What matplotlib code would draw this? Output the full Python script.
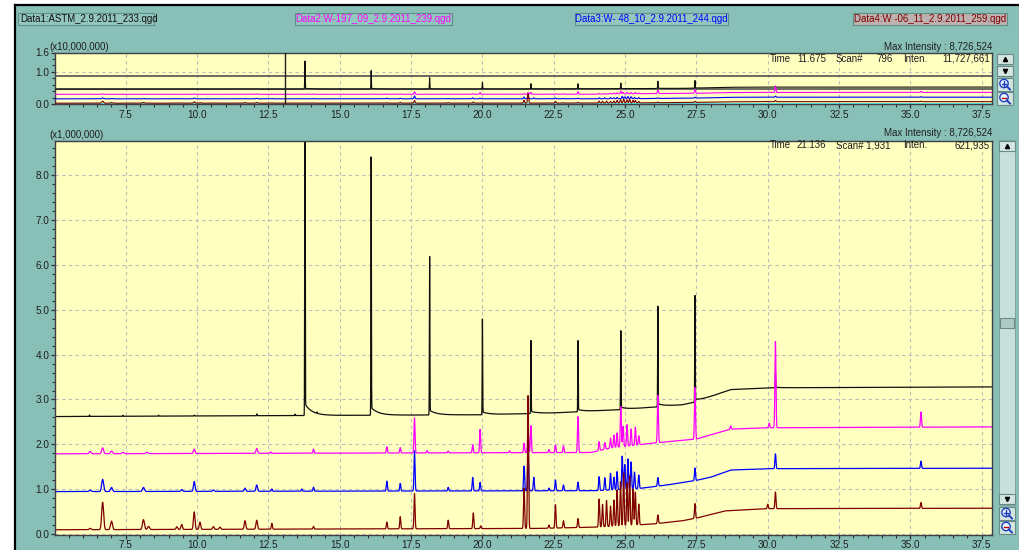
import numpy as np
import matplotlib
matplotlib.use('Agg')
import matplotlib.pyplot as plt
from matplotlib.patches import Rectangle, Circle
from matplotlib.ticker import MultipleLocator

plt.rcParams['font.family'] = ['Liberation Sans', 'DejaVu Sans']

# retention time window (min)
t_lo, t_hi = 5.02, 37.86

# Data1: ASTM (black) -- intensity in x1,000,000
astm_base_t = [5.0, 20.0, 22.5, 25.0, 27.0, 27.5, 28.7, 30.0, 37.9]
astm_base_v = [2.62, 2.66, 2.70, 2.78, 2.88, 2.95, 3.22, 3.26, 3.28]
astm_peak_t = [6.23, 7.40, 8.65, 9.90, 12.10, 13.43, 13.78, 14.20, 16.10, 18.15,
               20.00, 21.70, 23.35, 24.85, 26.15, 27.45, 30.27]
astm_peak_h = [0.03, 0.02, 0.02, 0.02, 0.04, 0.03, 8.60, 0.03, 5.76, 3.43,
               2.07, 1.58, 1.59, 1.75, 2.24, 2.33, 0.30]

# Data2: W-197_09 (magenta)
w197_base_t = [5.0, 23.8, 24.5, 26.0, 27.5, 28.7, 30.0, 37.9]
w197_base_v = [1.79, 1.82, 1.92, 2.03, 2.12, 2.34, 2.37, 2.39]
w197_peak_t = [6.25, 6.69, 7.00, 7.40, 8.24, 9.90, 12.09, 12.58, 14.08, 16.65,
               17.12, 17.62, 18.06, 18.80, 19.66, 19.92, 20.95, 21.46, 21.60, 21.70,
               22.33, 22.56, 22.84, 23.35, 24.09, 24.29, 24.49, 24.61, 24.72, 24.85,
               24.93, 25.07, 25.21, 25.36, 25.48, 26.15, 27.45, 28.70, 30.05, 30.27,
               35.37]
w197_peak_h = [0.05, 0.13, 0.06, 0.03, 0.03, 0.10, 0.11, 0.03, 0.09, 0.14,
               0.12, 0.78, 0.05, 0.04, 0.18, 0.52, 0.04, 0.21, 0.55, 0.60,
               0.07, 0.17, 0.15, 0.80, 0.20, 0.15, 0.22, 0.28, 0.32, 0.90,
               0.45, 0.48, 0.37, 0.40, 0.20, 1.05, 1.15, 0.07, 0.10, 1.92,
               0.34]

# Data3: W-48_10 (blue)
w48_base_t = [5.0, 24.0, 25.5, 26.5, 27.5, 28.0, 28.7, 30.0, 37.9]
w48_base_v = [0.95, 0.97, 1.02, 1.10, 1.20, 1.27, 1.43, 1.46, 1.47]
w48_peak_t = [6.25, 6.69, 7.00, 8.12, 9.46, 9.90, 10.57, 11.68, 12.09, 12.62,
              13.67, 14.08, 16.65, 17.12, 17.62, 18.80, 19.66, 19.92, 21.46, 21.60,
              21.80, 22.33, 22.56, 22.84, 23.35, 24.09, 24.29, 24.49, 24.61, 24.72,
              24.90, 24.99, 25.10, 25.21, 25.33, 25.48, 26.15, 27.45, 30.27, 35.37]
w48_peak_h = [0.03, 0.27, 0.09, 0.09, 0.04, 0.22, 0.03, 0.07, 0.14, 0.05,
              0.05, 0.09, 0.22, 0.17, 0.89, 0.08, 0.30, 0.19, 0.55, 0.95,
              0.30, 0.06, 0.24, 0.13, 0.19, 0.31, 0.28, 0.37, 0.28, 0.40,
              0.74, 0.55, 0.67, 0.60, 0.37, 0.30, 0.19, 0.28, 0.33, 0.16]

# Data4: W-06_11 (dark red)
w06_base_t = [5.0, 22.0, 24.0, 26.0, 27.0, 27.5, 28.5, 30.0, 37.9]
w06_base_v = [0.10, 0.13, 0.16, 0.23, 0.30, 0.36, 0.52, 0.57, 0.58]
w06_peak_t = [6.25, 6.69, 7.00, 8.12, 8.30, 9.29, 9.46, 9.90, 10.10, 10.57,
              10.80, 11.68, 12.09, 12.62, 14.08, 16.65, 17.12, 17.62, 18.80, 19.68,
              19.94, 21.46, 21.60, 22.33, 22.56, 22.84, 23.35, 24.09, 24.21, 24.35,
              24.49, 24.61, 24.72, 24.84, 24.95, 25.07, 25.16, 25.28, 25.36, 25.48,
              26.15, 27.45, 30.00, 30.27, 35.37]
w06_peak_h = [0.03, 0.61, 0.19, 0.22, 0.07, 0.06, 0.11, 0.39, 0.16, 0.06,
              0.05, 0.19, 0.20, 0.13, 0.06, 0.15, 0.27, 0.78, 0.19, 0.35,
              0.06, 0.90, 2.97, 0.07, 0.52, 0.16, 0.20, 0.62, 0.50, 0.58,
              0.45, 0.58, 0.80, 0.98, 1.17, 0.95, 1.10, 0.80, 0.73, 0.46,
              0.19, 0.33, 0.10, 0.37, 0.13]

file_names = ['Data1:ASTM_2.9.2011_233.qgd', 'Data2:W-197_09_2.9.2011_239.qgd',
              'Data3:W- 48_10_2.9.2011_244.qgd', 'Data4:W -06_11_2.9.2011_259.qgd']
colors = ['#101010', '#ff00ff', '#0000ff', '#800000']
top_offsets = [0.46, 0.30, 0.16, 0.025]   # overview panel baselines (x10,000,000)


def sigma_at(rt):
    # early peaks are broader
    if rt < 8.5:
        return 0.034
    if rt < 12.5:
        return 0.027
    return 0.018


def trace(t, base_t, base_v, peak_t, peak_h, sharp=False):
    y = np.interp(t, base_t, base_v)
    for pt, ph in zip(peak_t, peak_h):
        s = 0.008 if sharp else sigma_at(pt)
        y = y + ph * np.exp(-0.5 * ((t - pt) / s) ** 2)
        if sharp:
            # tailing of alkane peaks
            dt = t - pt
            y = y + np.where(dt > 0, ph * 0.03 * np.exp(-np.clip(dt, 0, None) / 0.25), 0)
    return y


t = np.linspace(5.0, 37.9, 9000)
traces = [
    trace(t, astm_base_t, astm_base_v, astm_peak_t, astm_peak_h, sharp=True),
    trace(t, w197_base_t, w197_base_v, w197_peak_t, w197_peak_h),
    trace(t, w48_base_t, w48_base_v, w48_peak_t, w48_peak_h),
    trace(t, w06_base_t, w06_base_v, w06_peak_t, w06_peak_h),
]
main_offsets = [astm_base_v[0], w197_base_v[0], w48_base_v[0], w06_base_v[0]]

W, H = 1019, 550
fig = plt.figure(figsize=(W / 100, H / 100), dpi=100, facecolor='#88c0b8')

# pixel canvas for window chrome
bg = fig.add_axes([0, 0, 1, 1], zorder=0)
bg.set_xlim(0, W)
bg.set_ylim(H, 0)
bg.axis('off')
bg.add_patch(Rectangle((0, 0), 14.5, H, facecolor='white', edgecolor='none'))
bg.add_patch(Rectangle((0, 0), W, 4, facecolor='white', edgecolor='none'))
bg.plot([15.5, 15.5], [4.5, H], color='black', lw=1.6)
bg.plot([15.5, W], [5, 5], color='black', lw=1.6)

box_x = [(18, 154), (295, 452), (575, 728), (853, 1007)]
box_face = ['#92c6be', '#92c6be', '#92c6be', '#bdb2b0']
for (x0, x1), name, c, fc in zip(box_x, file_names, colors, box_face):
    bg.add_patch(Rectangle((x0, 12.5), x1 - x0, 12, facecolor=fc, edgecolor='#5f8f89', lw=0.8))
    if x0 == 18:
        bg.text(x0 + 2, 18.8, name, color=c, fontsize=6.9, va='center', ha='left')
    else:
        bg.text((x0 + x1) / 2, 18.8, name, color=c, fontsize=6.9, va='center', ha='center')

# labels above panels
bg.text(49, 47.5, '(x10,000,000)', fontsize=7, va='center', color='#202020')
bg.text(992, 46.5, 'Max Intensity : 8,726,524', fontsize=7, va='center', ha='right', color='#202020')
bg.text(49, 135, '(x1,000,000)', fontsize=7, va='center', color='#202020')
bg.text(992, 133.5, 'Max Intensity : 8,726,524', fontsize=7, va='center', ha='right', color='#202020')


# scroll bars / buttons
def button(x0, y0, w, h, kind):
    bg.add_patch(Rectangle((x0, y0), w, h, facecolor='#d4e6e2', edgecolor='#6a8a86', lw=0.8))
    cx, cy = x0 + w / 2, y0 + h / 2
    if kind == 'up':
        bg.plot(cx, cy, marker='^', ms=3, color='black')
    elif kind == 'down':
        bg.plot(cx, cy, marker='v', ms=3, color='black')
    else:
        bg.add_patch(Circle((cx - 1, cy - 1), 4.2, facecolor='#e8f4ff', edgecolor='#2040c0', lw=1))
        bg.plot([cx + 2, cx + 5], [cy + 2, cy + 5], color='#2040c0', lw=1.4)
        bg.plot([cx - 3.2, cx + 1.2], [cy - 1, cy - 1], color='#c00000' if kind == 'minus' else '#2040c0', lw=1)
        if kind == 'plus':
            bg.plot([cx - 1, cx - 1], [cy - 3.2, cy + 1.2], color='#2040c0', lw=1)


bg.add_patch(Rectangle((999, 140), 16, 365, facecolor='#c8e0dc', edgecolor='#7a9a96', lw=0.6))
bg.add_patch(Rectangle((1000, 318), 14, 10, facecolor='#b0cac6', edgecolor='#6a8a86', lw=0.8))
button(999, 140.5, 16, 10, 'up')
button(999, 494, 16, 10, 'down')
button(999, 507, 16, 13, 'plus')
button(999, 521, 16, 13, 'minus')
button(997, 54, 16, 10, 'up')
button(997, 65.5, 16, 10, 'down')
button(997, 78, 16, 13, 'plus')
button(997, 92, 16, 13, 'minus')


def style_axes(ax, ylim, ymajor, yminor):
    ax.set_facecolor('#ffffc0')
    ax.set_xlim(t_lo, t_hi)
    ax.set_ylim(*ylim)
    ax.xaxis.set_major_locator(MultipleLocator(2.5))
    ax.xaxis.set_minor_locator(MultipleLocator(0.5))
    ax.yaxis.set_major_locator(ymajor)
    ax.yaxis.set_minor_locator(MultipleLocator(yminor))
    ax.xaxis.set_major_formatter(plt.FuncFormatter(lambda v, p: '%.1f' % v))
    ax.yaxis.set_major_formatter(plt.FuncFormatter(lambda v, p: '%.1f' % v))
    ax.tick_params(which='major', direction='out', length=3, width=0.9, labelsize=7.2,
                   colors='#303030', labelcolor='#202020', pad=1)
    ax.tick_params(which='minor', direction='out', length=2, width=0.8, colors='#303030')
    ax.grid(True, which='major', color='#bcbcbc', lw=0.8, ls=(0, (3, 3)))
    for sp in ax.spines.values():
        sp.set_color('#404040')
        sp.set_linewidth(1.0)


# overview panel
ax_top = fig.add_axes([55 / W, (H - 104) / H, 937 / W, (104 - 52.5) / H], zorder=1)
style_axes(ax_top, (0, 1.6), plt.FixedLocator([0.0, 1.0, 1.6]), 0.2)
ax_top.axhline(0.855, color='#505050', lw=1.2, zorder=3)
ax_top.axhline(0.46, color='#505050', lw=1.2, zorder=3)
ax_top.axhline(0.01, color='#30d8d8', lw=1.2, zorder=3)
for y, c, off0, off1 in zip(traces, colors, main_offsets, top_offsets):
    ax_top.plot(t, (y - off0) / 10 + off1, color=c, lw=0.8, zorder=4)
ax_top.axvline(13.08, color='#202020', lw=1.0, zorder=5)

# main panel
ax = fig.add_axes([55 / W, (H - 534.5) / H, 937 / W, (534.5 - 140.7) / H], zorder=1)
style_axes(ax, (-0.005, 8.76), MultipleLocator(1.0), 0.2)
for y, c in zip(traces, colors):
    ax.plot(t, y, color=c, lw=0.9)

# cursor readouts drawn above the plot panels
fg = fig.add_axes([0, 0, 1, 1], zorder=3)
fg.set_xlim(0, W)
fg.set_ylim(H, 0)
fg.axis('off')


def cursor_row(y, time_s, scan_s, inten_s):
    fg.text(770, y, 'Time', fontsize=7, va='center', color='#202020')
    fg.text(797, y, time_s, fontsize=7, va='center', color='#202020')
    fg.text(836, y, scan_s, fontsize=7, va='center', color='#202020')
    fg.text(903, y, 'Inten.', fontsize=7, va='center', color='#202020')
    fg.text(990, y, inten_s, fontsize=7, va='center', ha='right', color='#202020')


cursor_row(58.5, '11.675', 'Scan#', '11,727,661')
fg.text(876, 58.5, '796', fontsize=7, va='center', color='#202020')
cursor_row(145.5, '21.136', 'Scan# 1,931', '621,935')

fig.savefig('out.png', dpi=100, facecolor=fig.get_facecolor())
